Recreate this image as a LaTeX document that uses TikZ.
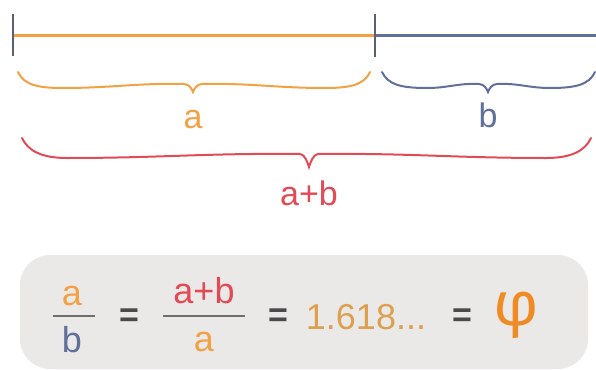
\documentclass[tikz,border=0pt]{standalone}
\usepackage{fontspec}
\setmainfont{Liberation Sans}
\newfontfamily\phifont{Fira Sans}
\definecolor{orangeC}{HTML}{F2A144}
\definecolor{blueC}{HTML}{60709A}
\definecolor{redC}{HTML}{E24A55}
\definecolor{tickC}{HTML}{5A6070}
\definecolor{eqC}{HTML}{4A4A4A}
\definecolor{boxC}{HTML}{EBE9E7}
\definecolor{phiC}{HTML}{F08A24}
\definecolor{numC}{HTML}{DCA050}
\newcommand{\curlybrace}[7]{%
\draw[#1] (#2,#5) .. controls ({#2+6},{#5+13}) and ({#2+20},{#6}) .. ({#2+45},{#6})
  .. controls ({#2+45+(#3-#2-54)*0.4},{#6}) and ({#3-9-(#3-#2-54)*0.4},{#6-5}) .. ({#3-9},{#6-4})
  .. controls ({#3-4},{#6-4}) and ({#3-1},{#7-3}) .. (#3,#7)
  .. controls ({#3+1},{#7-3}) and ({#3+4},{#6-4}) .. ({#3+9},{#6-4})
  .. controls ({#3+9+(#4-#3-54)*0.4},{#6-5}) and ({#4-45-(#4-#3-54)*0.4},{#6}) .. ({#4-45},{#6})
  .. controls ({#4-20},{#6}) and ({#4-6},{#5+13}) .. (#4,#5);}
\begin{document}
\begin{tikzpicture}[x=1pt,y=-1pt,
  lbl/.style={inner sep=0pt, anchor=base, font=\fontsize{34}{40}\selectfont},
  frm/.style={inner sep=0pt, anchor=base, font=\fontsize{36}{42}\selectfont},
  eqs/.style={inner sep=0pt, anchor=center, text=eqC, font=\fontsize{34}{40}\selectfont\bfseries},
  bar/.style={draw=eqC!80, line width=2pt},
  seg/.style={line width=3pt},
  tickline/.style={draw=tickC, line width=2.5pt},
  brace/.style={line width=2pt, line cap=round}]
\useasboundingbox (0,0) rectangle (596,369);
\clip (0,0) rectangle (596,369);
% top segment
\coordinate (L) at (13,36);
\coordinate (M) at (375,36);
\coordinate (R) at (600,36);
\coordinate (Lt) at (13,14);
\coordinate (Lb) at (13,56);
\coordinate (Mt) at (375,14);
\coordinate (Mb) at (375,57);
\draw[seg, orangeC] (L) -- (M);
\draw[seg, blueC] (M) -- (R);
\draw[tickline] (Lt) -- (Lb);
\draw[tickline] (Mt) -- (Mb);
% braces
\curlybrace{brace, orangeC}{18}{193}{370}{72}{88}{92}
\curlybrace{brace, blueC}{382}{488}{595}{72}{88}{92}
\curlybrace{brace, redC}{22}{309}{591}{138}{158}{167}
\node[lbl, text=orangeC] (la) at (193,128) {a};
\node[lbl, text=blueC] (lb) at (488,127) {b};
\node[lbl, text=redC] (lab) at (309,205) {a+b};
% formula box
\fill[boxC, rounded corners=30pt] (20,255) rectangle (588,369);
\node[frm, text=orangeC] (f1n) at (72,305) {a};
\node[frm, text=blueC] (f1d) at (72,352) {b};
\coordinate (f1l) at (53,316);
\coordinate (f1r) at (95,316);
\draw[bar] (f1l) -- (f1r);
\node[eqs] (e1) at (129,318) {=};
\node[frm, text=redC] (f2n) at (204,303) {a+b};
\node[frm, text=orangeC] (f2d) at (204,351) {a};
\coordinate (f2l) at (163,316);
\coordinate (f2r) at (245,316);
\draw[bar] (f2l) -- (f2r);
\node[eqs] (e2) at (278,318) {=};
\node[frm, text=numC, anchor=center] (num) at (366,317) {1.618...};
\node[eqs] (e3) at (462,318) {=};
\node[inner sep=0pt, text=phiC, font=\phifont\fontsize{62}{70}\selectfont] (phi) at (516,315) {φ};
\end{tikzpicture}
\end{document}
